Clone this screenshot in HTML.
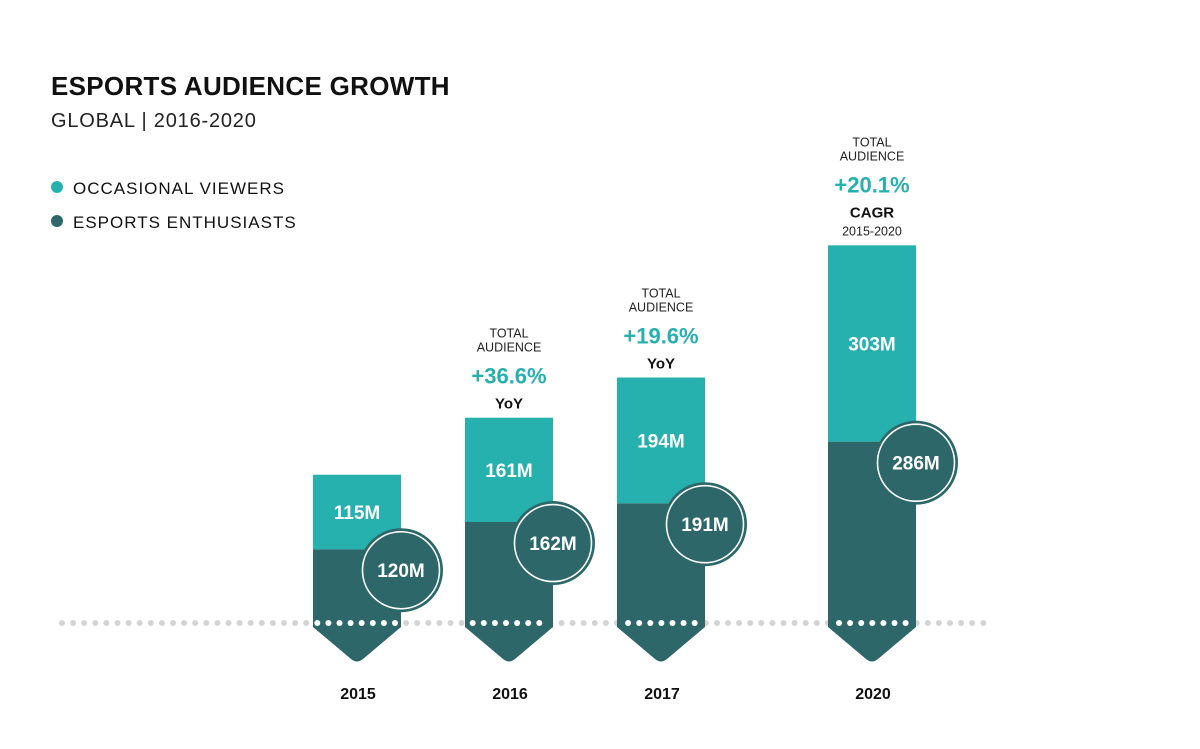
<!DOCTYPE html>
<html><head><meta charset="utf-8"><style>
html,body{margin:0;padding:0;background:#fff;}
svg{display:block;font-family:"Liberation Sans",sans-serif;}
</style></head><body>
<svg id="chart" width="1200" height="749" viewBox="0 0 1200 749" xmlns="http://www.w3.org/2000/svg">
<text x="51" y="95" font-size="26" font-weight="bold" fill="#111" letter-spacing="0.3">ESPORTS AUDIENCE GROWTH</text>
<text x="51" y="127" font-size="20" fill="#222" letter-spacing="0.8">GLOBAL | 2016-2020</text>
<g>
<circle cx="57" cy="187" r="6" fill="#27b1ae"/>
<text x="73" y="194" font-size="17" fill="#111" letter-spacing="1">OCCASIONAL VIEWERS</text>
<circle cx="57" cy="221" r="6" fill="#2d6769"/>
<text x="73" y="228" font-size="17" fill="#111" letter-spacing="1">ESPORTS ENTHUSIASTS</text>
</g>
<g id="marks"></g>
</svg>
<script>
const years = ["2015","2016","2017","2020"];
const occasional = [115,161,194,303];
const enthusiasts = [120,162,191,286];
const growthPct = ["","+36.6%","+19.6%","+20.1%"];
const growthType = ["","YoY","YoY","CAGR"];
const growthNote = ["","","","2015-2020"];

const NS="http://www.w3.org/2000/svg";
const g=document.getElementById('marks');
const base=627, scale=0.648, barW=88, baseline=623;
const xLeft=[313,465,617,828];
function y(v){return base - v*scale;}
function mk(tag,attrs,parent){const e=document.createElementNS(NS,tag);for(const k in attrs)e.setAttribute(k,attrs[k]);(parent||g).appendChild(e);return e;}
function txt(s,attrs){const e=mk('text',attrs);e.textContent=s;return e;}

// grey dotted baseline
for(let x=62;x<=992;x+=11.1){
  const d=mk('circle',{cx:x.toFixed(1),cy:baseline,r:3,fill:'#d4d4d4'});
  
  
}

years.forEach((yr,i)=>{
  const x0=xLeft[i], cx=x0+barW/2;
  const split=y(enthusiasts[i]);
  const top=split-occasional[i]*scale;
  const ent=mk('path',{d:`M${x0},${split} H${x0+barW} V${base} L${cx+6},${base+32} Q${cx},${base+37} ${cx-6},${base+32} L${x0},${base} Z`,fill:'#2d6769'});
  
  
  const occ=mk('rect',{x:x0,y:top,width:barW,height:split-top,fill:'#27b1ae'});
  
  
  // white dots over bar
  for(let x=62;x<=992;x+=11.1){
    if(x>x0+3 && x<x0+barW-3){
      const d=mk('circle',{cx:x.toFixed(1),cy:baseline,r:3,fill:'#ffffff'});
      
      
    }
  }
  const ol=txt(occasional[i]+'M',{x:cx,y:(top+split)/2+7,'text-anchor':'middle','font-size':19,'font-weight':'bold',fill:'#fff'});
  
  
  const ccx=x0+barW, ccy=split+21;
  const c1=mk('circle',{cx:ccx,cy:ccy,r:42,fill:'#2d6769'});
  
  
  const c2=mk('circle',{cx:ccx,cy:ccy,r:38.5,fill:'none',stroke:'#fff','stroke-width':1.6});
  
  
  const el=txt(enthusiasts[i]+'M',{x:ccx,y:ccy+7,'text-anchor':'middle','font-size':19,'font-weight':'bold',fill:'#fff'});
  
  
  const yl=txt(yr,{x:cx+1,y:699,'text-anchor':'middle','font-size':16,'font-weight':'bold',fill:'#111'});
  
  
  if(growthPct[i]){
    const off = growthNote[i]? 19 : 0;
    const t1=txt('TOTAL',{x:cx,y:top-80-off,'text-anchor':'middle','font-size':12.5,fill:'#222'});
    
    
    const t2=txt('AUDIENCE',{x:cx,y:top-66-off,'text-anchor':'middle','font-size':12.5,fill:'#222'});
    
    
    const p=txt(growthPct[i],{x:cx,y:top-34-off,'text-anchor':'middle','font-size':22,'font-weight':'bold',fill:'#27b1ae'});
    
    
    const ty=txt(growthType[i],{x:cx,y:top-9-off,'text-anchor':'middle','font-size':15,'font-weight':'bold',fill:'#111'});
    
    
    if(growthNote[i]){
      const n=txt(growthNote[i],{x:cx,y:top-10,'text-anchor':'middle','font-size':12.5,fill:'#222'});
      
      
    }
  }
});
</script>
</body></html>
